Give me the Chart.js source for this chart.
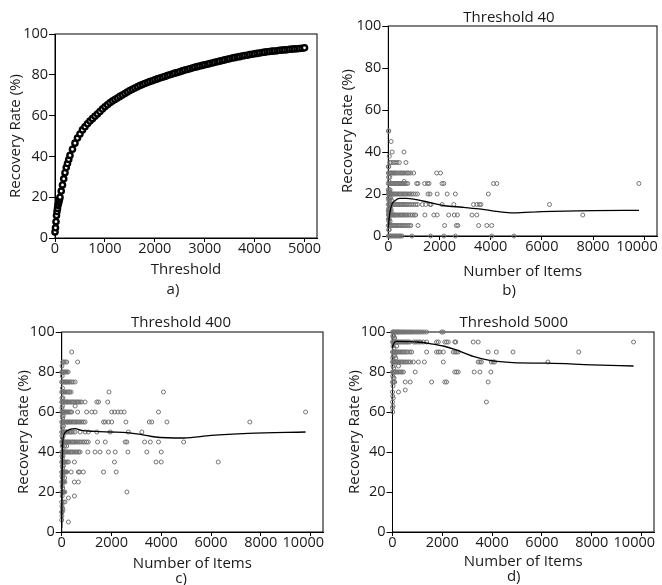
<!DOCTYPE html>
<html>
<head>
<meta charset="utf-8">
<title>Recovery rate</title>
<script src="https://cdn.jsdelivr.net/npm/chart.js@4.4.1/dist/chart.umd.min.js"></script>
<style>
  html, body { margin: 0; padding: 0; background: #fff; overflow: hidden; }
  body { width: 662px; height: 585px; position: relative; }
  .panel { position: absolute; }
</style>
</head>
<body>
<div class="panel" style="left:0;top:0;width:331px;height:299px"><canvas id="chart-a"></canvas></div>
<div class="panel" style="left:331px;top:0;width:331px;height:300px"><canvas id="chart-b"></canvas></div>
<div class="panel" style="left:0;top:300px;width:331px;height:288px"><canvas id="chart-c"></canvas></div>
<div class="panel" style="left:331px;top:300px;width:331px;height:286px"><canvas id="chart-d"></canvas></div>
<script>
// a) recovery rate vs threshold
const thresholdsA = [0, 10, 20, 30, 40, 50, 60, 70, 80, 90, 100, 125, 150, 175, 200, 225, 250, 275,
    300, 350, 400, 450, 500, 550, 600, 650, 700, 750, 800, 850, 900, 950,
    1000, 1050, 1100, 1150, 1200, 1250, 1300, 1350, 1400, 1450, 1500, 1550, 1600, 1650, 1700, 1750, 1800, 1850, 1900, 1950,
    2000, 2050, 2100, 2150, 2200, 2250, 2300, 2350, 2400, 2450, 2500, 2550, 2600, 2650, 2700, 2750, 2800, 2850, 2900, 2950,
    3000, 3050, 3100, 3150, 3200, 3250, 3300, 3350, 3400, 3450, 3500, 3550, 3600, 3650, 3700, 3750, 3800, 3850, 3900, 3950,
    4000, 4050, 4100, 4150, 4200, 4250, 4300, 4350, 4400, 4450, 4500, 4550, 4600, 4650, 4700, 4750, 4800, 4850, 4900, 4950, 5000];
const recoveryA = [3, 5, 8, 11, 13, 14.5, 16, 17, 18, 19, 20, 23, 26, 29, 32, 34.5, 36.5, 38.5,
    40.5, 43.5, 46.5, 49, 51, 53, 54.5, 56, 57.3, 58.5, 59.7, 60.8, 62, 63.2,
    64.3, 65.3, 66.3, 67.1, 67.9, 68.6, 69.4, 70.1, 70.8, 71.6, 72.3, 72.9, 73.5, 74.1, 74.7, 75.2, 75.7, 76.2, 76.7, 77.1,
    77.6, 78, 78.4, 78.8, 79.2, 79.6, 80, 80.4, 80.8, 81.1, 81.5, 81.9, 82.3, 82.6, 83, 83.3, 83.7, 84, 84.3, 84.6,
    84.9, 85.2, 85.5, 85.8, 86.1, 86.4, 86.7, 87, 87.3, 87.6, 87.9, 88.2, 88.4, 88.7, 88.9, 89.2, 89.4, 89.6, 89.9, 90.1,
    90.3, 90.5, 90.7, 90.9, 91.1, 91.3, 91.4, 91.6, 91.7, 91.8, 92, 92.1, 92.2, 92.3, 92.5, 92.6, 92.7, 92.8, 92.9, 93, 93.2];

// b) threshold 40: rate levels and the item counts seen at each level
const levelsB = [50, 45, 40, 38, 35, 33, 30, 28, 26, 25, 22, 21, 20, 18, 17, 15, 13, 12, 11, 10, 8, 7, 5, 3, 0];
const itemsB = [
    [0, 20], [110], [150, 610], [40], [60, 110, 190, 260, 340, 430, 690], [0, 20],
    [0, 50, 90, 130, 170, 220, 260, 300, 350, 410, 470, 520, 570, 620, 690, 740, 800, 880, 990, 1890, 2040],
    [10, 60], [30, 620],
    [0, 40, 80, 120, 160, 200, 240, 280, 320, 360, 400, 440, 480, 520, 560, 600, 650, 700, 760, 1110, 1160, 1420, 1530, 1590, 2100, 2170, 4110, 4240, 9790],
    [0, 30, 70], [20, 50],
    [0, 40, 80, 120, 160, 200, 240, 280, 330, 380, 430, 480, 530, 580, 630, 680, 730, 790, 850, 910, 980, 1060, 1140, 1550, 1630, 1910, 2300, 2620, 3910],
    [0, 40, 90], [20, 60, 130],
    [0, 40, 80, 120, 160, 200, 240, 280, 320, 370, 420, 470, 520, 570, 620, 670, 720, 780, 850, 920, 990, 1070, 1140, 1330, 1460, 1630, 1670, 2100, 2560, 3330, 3460, 3560, 3620, 6300],
    [10, 50, 100], [0, 30, 70, 120], [20, 80],
    [0, 40, 80, 120, 160, 200, 240, 280, 320, 370, 420, 470, 520, 570, 620, 680, 740, 800, 870, 940, 1010, 1070, 1430, 1780, 1910, 2360, 2580, 2700, 3270, 3460, 7600],
    [0, 40], [20, 70],
    [0, 40, 80, 120, 160, 200, 240, 290, 340, 390, 440, 490, 540, 590, 640, 700, 760, 820, 880, 1160, 2200, 2660, 2720, 3530, 3850, 4040],
    [10, 40],
    [0, 40, 80, 130, 180, 230, 280, 330, 380, 430, 480, 540, 920, 1650, 2170, 2620, 4040, 4910]
];
const smoothBX = [0, 60, 130, 260, 450, 700, 1100, 1600, 2200, 2900, 3550, 4300, 4900, 6000, 8000, 9800];
const smoothBY = [4, 11, 14.8, 16.8, 17.9, 17.9, 17.3, 16, 14.4, 13.7, 12.9, 11.6, 11, 11.6, 12.1, 12.2];

// c) threshold 400
const levelsC = [90, 85, 83, 80, 78, 75, 72, 70, 67, 65, 63, 62, 60, 58, 57, 55, 53, 52, 50, 48, 47, 45, 43, 42, 40,
    38, 37, 35, 33, 32, 30, 28, 27, 25, 23, 22, 20, 18, 17, 15, 13, 12, 11, 10, 8, 6, 5];
const itemsC = [
    [400], [40, 90, 140, 200, 640], [10],
    [0, 40, 80, 120, 160, 210, 260], [20],
    [0, 40, 80, 120, 160, 200, 240, 290, 340, 400, 460, 540], [30],
    [0, 40, 80, 120, 170, 220, 270, 320, 380, 1900, 4090], [10, 50],
    [0, 40, 80, 120, 160, 200, 240, 280, 330, 380, 430, 480, 530, 580, 630, 680, 740, 800, 940, 1410, 1480, 1850],
    [30, 540], [10],
    [0, 40, 80, 120, 160, 200, 250, 300, 350, 400, 640, 1000, 1210, 1340, 2010, 2130, 2260, 2380, 2510, 3890, 9800],
    [20, 60], [40],
    [0, 40, 80, 120, 160, 200, 240, 280, 320, 370, 420, 470, 520, 570, 620, 680, 740, 800, 870, 940, 1680, 1750, 1880, 2010, 2580, 3520, 3620, 4230, 7560],
    [20, 70], [30],
    [0, 40, 80, 120, 160, 200, 250, 300, 350, 400, 460, 540, 740, 940, 1070, 1410, 1950, 2680, 3220],
    [10, 60], [30],
    [0, 40, 80, 120, 160, 200, 240, 280, 330, 380, 430, 480, 530, 590, 650, 710, 780, 850, 920, 1000, 1070, 1440, 1750, 2550, 2620, 3330, 3560, 3890, 4900],
    [20, 120, 200], [60],
    [0, 40, 80, 120, 160, 200, 240, 290, 340, 390, 440, 500, 560, 620, 680, 740, 1050, 1340, 1540, 1880, 2150, 2660, 3420, 4000],
    [10, 50], [30],
    [0, 40, 80, 120, 170, 220, 270, 510, 2120, 3790, 4000, 6290],
    [20, 70], [40],
    [0, 40, 80, 120, 160, 200, 380, 670, 720, 870, 1680, 2190],
    [10, 50], [30, 120],
    [0, 40, 80, 130, 510, 670], [20], [40],
    [0, 40, 80, 130, 2620], [20, 510], [270], [0, 60, 130], [10], [30], [50], [0, 20], [10], [0], [270]
];
const smoothCX = [0, 20, 40, 60, 110, 335, 540, 800, 1340, 1950, 2620, 3220, 3760, 4900, 6000, 7500, 9800];
const smoothCY = [2, 30, 44, 47, 49.2, 51.3, 51.7, 50.8, 50.3, 50, 49.7, 48.7, 47.5, 47, 48.3, 49.3, 50];

// d) threshold 5000
const levelsD = [100, 98, 97, 95, 93, 92, 90, 88, 87, 85, 83, 82, 80, 78, 77, 75, 73, 71, 70, 68, 67, 65, 63, 62, 60];
const itemsD = [
    [0, 40, 80, 120, 160, 200, 240, 280, 330, 380, 430, 480, 530, 590, 650, 710, 770, 830, 900, 970, 1040, 1110, 1190, 1270, 1370, 1970, 2040],
    [10, 50], [30, 90],
    [0, 40, 80, 120, 160, 200, 240, 290, 340, 390, 440, 490, 540, 590, 640, 700, 850, 920, 990, 1060, 1130, 1240, 1370, 1770, 1840, 2100, 2170, 2240, 2500, 2540, 3240, 3440, 9680],
    [20, 170], [60],
    [0, 40, 80, 120, 160, 200, 240, 290, 340, 390, 440, 500, 560, 620, 700, 770, 1370, 1770, 1840, 1910, 2040, 2440, 2510, 2570, 2640, 3840, 4170, 4840, 7480],
    [30, 90], [10, 130],
    [0, 40, 80, 120, 160, 200, 250, 300, 350, 400, 460, 520, 580, 650, 720, 840, 1040, 1280, 2040, 3440, 3510, 3570, 3970, 4040, 4100, 6240],
    [20, 240], [50],
    [0, 40, 80, 120, 170, 220, 270, 330, 380, 440, 910, 2500, 2570, 2640, 3280, 3510, 3950],
    [10], [30, 60],
    [0, 40, 90, 510, 710, 1570, 2100, 2170, 3840],
    [20], [510], [0, 240], [10], [30], [0, 3770], [20], [0], [10]
];
const smoothDX = [0, 60, 170, 600, 1000, 1500, 2040, 2500, 3240, 3900, 4840, 6240, 8000, 9680];
const smoothDY = [92, 94.5, 95.3, 95.2, 95, 94.2, 93, 91.3, 87.8, 85.8, 84.7, 84.4, 83.6, 83];

// tick labels
const thresholdTicks = [0, 1000, 2000, 3000, 4000, 5000];
const itemTicks = [0, 2000, 4000, 6000, 8000, 10000];
const rateTicks = [0, 20, 40, 60, 80, 100];
const textColor = '#1a1a1a';

Chart.defaults.font.family = '"Open Sans", "Noto Sans", sans-serif';
Chart.defaults.color = textColor;

// box round the plot area (top and right edges)
const frame = {
    id: 'frame',
    beforeDatasetsDraw(chart) {
        const { ctx, chartArea: a } = chart;
        ctx.save();
        ctx.strokeStyle = '#000';
        ctx.lineWidth = 1;
        ctx.strokeRect(a.left, a.top, a.right - a.left, a.bottom - a.top);
        ctx.restore();
    },
};

function rowPoints(levels, items) {
    const pts = [];
    levels.forEach((lv, i) => items[i].forEach((x) => pts.push({ x, y: lv })));
    return pts;
}

function pairs(xs, ys) {
    return xs.map((x, i) => ({ x, y: ys[i] }));
}

// tick labels may reach past the narrow axis box, so do not clip them to it
function noLabelClip(s) {
    s._computeLabelArea = () => undefined;
}

function drawPanel(id, p) {
    const datasets = [];
    if (p.smooth) {
        datasets.push({
            type: 'line',
            data: p.smooth,
            borderColor: '#000',
            borderWidth: 1.3,
            pointRadius: 0,
            fill: false,
            tension: 0.4,
            cubicInterpolationMode: 'monotone',
            order: 0,
            clip: 8,
        });
    }
    datasets.push({
        data: p.points,
        pointRadius: p.radius,
        pointBorderWidth: p.borderWidth,
        pointBorderColor: p.pointColor,
        pointBackgroundColor: p.pointFill,
        order: 1,
        clip: 8,
    });

    new Chart(document.getElementById(id), {
        type: 'scatter',
        data: { datasets },
        options: {
            responsive: true,
            maintainAspectRatio: false,
            animation: false,
            events: [],
            layout: { padding: p.padding },
            plugins: {
                legend: { display: false },
                tooltip: { enabled: false },
                title: {
                    display: !!p.title,
                    text: p.title || '',
                    color: textColor,
                    font: { size: 15, weight: 'normal' },
                    padding: p.titlePad || 0,
                },
                subtitle: {
                    display: true,
                    position: 'bottom',
                    text: p.tag,
                    color: textColor,
                    font: { size: 15, weight: 'normal' },
                    padding: p.tagPad,
                },
            },
            scales: {
                x: {
                    type: 'linear',
                    min: 0,
                    max: p.xMax,
                    grid: { drawOnChartArea: false, drawTicks: true, tickLength: 4, color: '#000' },
                    border: { display: true, color: '#000', width: 1 },
                    afterBuildTicks: (s) => {
                        s.ticks = p.xTicks.map((v) => ({ value: v }));
                    },
                    ticks: {
                        autoSkip: false,
                        maxRotation: 0,
                        padding: 0,
                        font: { size: 14.5, lineHeight: 1 },
                        callback: (v) => (v === 10000 ? '10000\u2003' : String(v)),
                    },
                    title: {
                        display: true,
                        text: p.xTitle,
                        color: textColor,
                        font: { size: 15 },
                        padding: { top: 0, bottom: p.xTitlePad },
                    },
                    afterFit: (s) => {
                        s.height = p.xHeight;
                        s.paddingLeft = 0;
                        s.paddingRight = 0;
                        noLabelClip(s);
                    },
                },
                y: {
                    type: 'linear',
                    min: 0,
                    max: 100,
                    grid: { drawOnChartArea: false, drawTicks: true, tickLength: 6, color: '#000' },
                    border: { display: true, color: '#000', width: 1 },
                    afterBuildTicks: (s) => {
                        s.ticks = rateTicks.map((v) => ({ value: v }));
                    },
                    ticks: {
                        padding: 1,
                        font: { size: 14.5 },
                        callback: (v) => String(v),
                    },
                    title: {
                        display: true,
                        text: 'Recovery Rate (%)',
                        color: textColor,
                        font: { size: 15 },
                        padding: { top: p.yTitlePad, bottom: 0 },
                    },
                    afterFit: (s) => {
                        s.width = p.yWidth;
                        s.paddingTop = 0;
                        s.paddingBottom = 0;
                        noLabelClip(s);
                    },
                },
            },
        },
        plugins: [frame],
    });
}

const scatterStyle = { radius: 2, borderWidth: 1, pointColor: '#737373', pointFill: 'rgba(255,255,255,0)' };

drawPanel('chart-a', {
    points: pairs(thresholdsA, recoveryA),
    radius: 2.6, borderWidth: 2.4, pointColor: '#000', pointFill: '#fff',
    xMax: 5250, xTicks: thresholdTicks, xTitle: 'Threshold', tag: 'a)',
    padding: { left: 29, right: 14, top: 34, bottom: 0 },
    yWidth: 26, yTitlePad: -22, xHeight: 41, xTitlePad: 0, tagPad: { top: 2, bottom: 0 },
});

drawPanel('chart-b', Object.assign({
    points: rowPoints(levelsB, itemsB),
    smooth: pairs(smoothBX, smoothBY),
    xMax: 10500, xTicks: itemTicks, xTitle: 'Number of Items', tag: 'b)', title: 'Threshold 40',
    padding: { left: 29, right: 4, top: 0, bottom: 0.5 }, titlePad: { top: 9, bottom: -1 },
    yWidth: 28.3, yTitlePad: -21.5, xHeight: 44.5, xTitlePad: 0, tagPad: { top: 1, bottom: 0 },
}, scatterStyle));

drawPanel('chart-c', Object.assign({
    points: rowPoints(levelsC, itemsC),
    smooth: pairs(smoothCX, smoothCY),
    xMax: 10500, xTicks: itemTicks, xTitle: 'Number of Items', tag: 'c)', title: 'Threshold 400',
    padding: { left: 39, right: 8, top: 0, bottom: 0 }, titlePad: { top: 14, bottom: 0 },
    yWidth: 22.7, yTitlePad: -24, xHeight: 38, xTitlePad: -2.5, tagPad: { top: 0, bottom: 0 },
}, scatterStyle));

drawPanel('chart-d', Object.assign({
    points: rowPoints(levelsD, itemsD),
    smooth: pairs(smoothDX, smoothDY),
    xMax: 10500, xTicks: itemTicks, xTitle: 'Number of Items', tag: 'd)', title: 'Threshold 5000',
    padding: { left: 42.4, right: 8, top: 0, bottom: 0.5 }, titlePad: { top: 14, bottom: 0 },
    yWidth: 19.1, yTitlePad: -27.4, xHeight: 36, xTitlePad: -2.5, tagPad: { top: -0.5, bottom: 0 },
}, scatterStyle));
</script>
</body>
</html>
